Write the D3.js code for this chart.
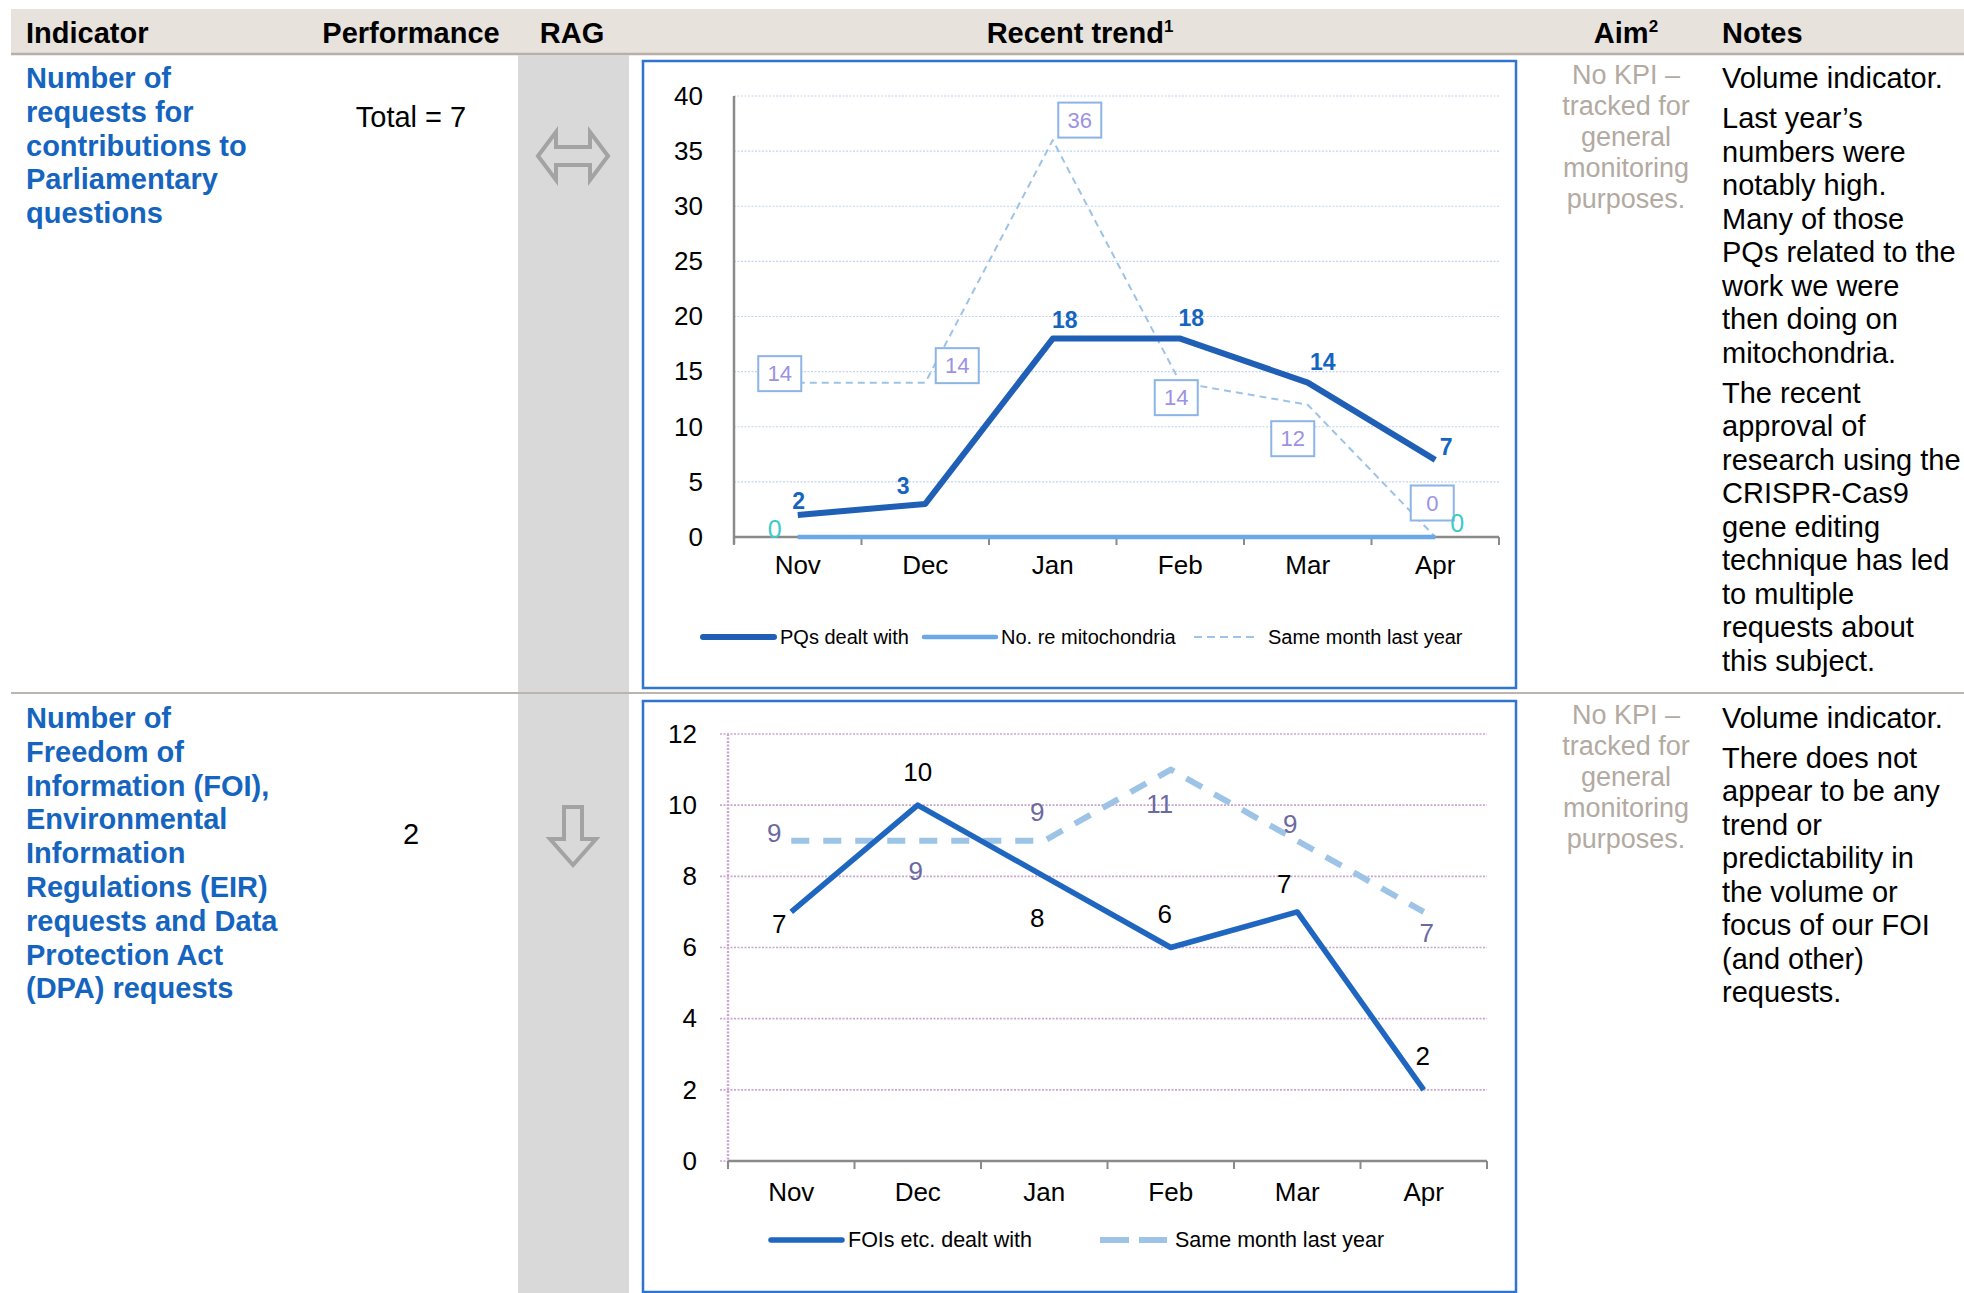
<!DOCTYPE html>
<html>
<head>
<meta charset="utf-8">
<script src="https://cdn.jsdelivr.net/npm/d3@7"></script>
<style>
  body { margin: 0; background: #fff; }
  svg { display: block; font-family: "Liberation Sans", Arial, sans-serif; }
</style>
</head>
<body>
<div id="page"></div>
<script>
// ---- data ----
const months = ["Nov", "Dec", "Jan", "Feb", "Mar", "Apr"];

// PQ chart
const pqsDealt = [2, 3, 18, 18, 14, 7];
const pqsMito = [0, 0, 0, 0, 0, 0];
const pqsLastYear = [14, 14, 36, 14, 12, 0];
const pqsTicks = [0, 5, 10, 15, 20, 25, 30, 35, 40];

// FOI chart
const foiDealt = [7, 10, 8, 6, 7, 2];
const foiLastYear = [9, 9, 9, 11, 9, 7];
const foiTicks = [0, 2, 4, 6, 8, 10, 12];

// table text
const headers = ["Indicator", "Performance", "RAG", "Recent trend", "Aim", "Notes"];
const indicator1 = ["Number of", "requests for", "contributions to", "Parliamentary", "questions"];
const indicator2 = ["Number of", "Freedom of", "Information (FOI),", "Environmental", "Information",
  "Regulations (EIR)", "requests and Data", "Protection Act", "(DPA) requests"];
const performance1 = "Total = 7";
const performance2 = "2";
const aimLines = ["No KPI \u2013", "tracked for", "general", "monitoring", "purposes."];
const notes1 = [
  ["Volume indicator."],
  ["Last year\u2019s", "numbers were", "notably high.", "Many of those", "PQs related to the",
    "work we were", "then doing on", "mitochondria."],
  ["The recent", "approval of", "research using the", "CRISPR-Cas9", "gene editing",
    "technique has led", "to multiple", "requests about", "this subject."]
];
const notes2 = [
  ["Volume indicator."],
  ["There does not", "appear to be any", "trend or", "predictability in", "the volume or",
    "focus of our FOI", "(and other)", "requests."]
];

// label placement tweaks (offset of label centre from its point), like the hand-placed Excel labels
const pqsDealtOff = [[1, -14], [-22, -18], [12, -19], [11, -21], [15, -21], [11, -13]];
const pqsMitoOff = [[-23, -8], null, null, null, null, [22, -14]];
const pqsLastOff = [[-18, -9], [32, -17], [27, -20], [-4, 15], [-15, 34], [-3, -34]];
const foiDealtOff = [[-12, 12], [0, -33], [-7, 42], [-6, -34], [-13, -28], [-1, -34]];
const foiLastOff = [[-17, -8], [-2, 30], [-7, -29], [-11, 34], [-7, -17], [3, 21]];

const svg = d3.select("#page").append("svg")
  .attr("width", 1964)
  .attr("height", 1293);

svg.append("rect").attr("width", 1964).attr("height", 1293).attr("fill", "#fff");

// ---- table frame ----
svg.append("rect")
  .attr("x", 11).attr("y", 9)
  .attr("width", 1953).attr("height", 44)
  .attr("fill", "#e7e2dc");
svg.append("line")
  .attr("x1", 11).attr("x2", 1964).attr("y1", 54).attr("y2", 54)
  .attr("stroke", "#b8afa6").attr("stroke-width", 2.5);

// RAG column shading
svg.append("rect")
  .attr("x", 518).attr("y", 55)
  .attr("width", 111).attr("height", 1238)
  .attr("fill", "#d9d9d9");

svg.append("line")
  .attr("x1", 11).attr("x2", 1964).attr("y1", 693).attr("y2", 693)
  .attr("stroke", "#bdb5ad").attr("stroke-width", 2);

// header labels
const headerPos = [
  { x: 26, anchor: "start" },
  { x: 411, anchor: "middle" },
  { x: 572, anchor: "middle" },
  { x: 1080, anchor: "middle", sup: "1" },
  { x: 1626, anchor: "middle", sup: "2" },
  { x: 1722, anchor: "start" }
];
headers.forEach((h, i) => {
  let t = svg.append("text")
    .attr("x", headerPos[i].x).attr("y", 43)
    .attr("text-anchor", headerPos[i].anchor)
    .attr("font-size", 29).attr("font-weight", "bold")
    .attr("fill", "#000")
    .text(h);
  if (headerPos[i].sup) {
    t.append("tspan")
      .attr("font-size", 17)
      .attr("dy", -11)
      .text(headerPos[i].sup);
  }
});

function textBlock(x, y, paragraphs, lh, gap, style) {
  let yy = y;
  paragraphs.forEach((lines, p) => {
    if (p > 0) yy += gap;
    lines.forEach(line => {
      svg.append("text")
        .attr("x", x).attr("y", yy)
        .attr("text-anchor", style.anchor || "start")
        .attr("font-size", style.size)
        .attr("font-weight", style.weight || "normal")
        .attr("fill", style.color)
        .text(line);
      yy += lh;
    });
  });
}

const indStyle = { size: 29, weight: "bold", color: "#1565c0" };
textBlock(26, 88, [indicator1], 33.8, 0, indStyle);
textBlock(26, 728, [indicator2], 33.8, 0, indStyle);

textBlock(411, 127, [[performance1]], 34, 0, { size: 29, color: "#000", anchor: "middle" });
textBlock(411, 844, [[performance2]], 34, 0, { size: 29, color: "#000", anchor: "middle" });

const aimStyle = { size: 27, color: "#b3aaa2", anchor: "middle" };
textBlock(1626, 84, [aimLines], 31, 0, aimStyle);
textBlock(1626, 724, [aimLines], 31, 0, aimStyle);

const noteStyle = { size: 29, color: "#000" };
textBlock(1722, 88, notes1, 33.5, 6.5, noteStyle);
textBlock(1722, 728, notes2, 33.5, 6, noteStyle);

// RAG arrows
svg.append("path")
  .attr("transform", "translate(573,156)")
  .attr("d", "M-35,0 L-17,-24 L-17,-9 L17,-9 L17,-24 L35,0 L17,24 L17,9 L-17,9 L-17,24 Z")
  .attr("fill", "none").attr("stroke", "#a3a3a3").attr("stroke-width", 4)
  .attr("stroke-linejoin", "miter");
svg.append("path")
  .attr("transform", "translate(573,836)")
  .attr("d", "M-9,-29 L9,-29 L9,3 L23,3 L0,29 L-23,3 L-9,3 Z")
  .attr("fill", "none").attr("stroke", "#a3a3a3").attr("stroke-width", 4);

// ---- charts ----
function drawChart(cfg) {
  const g = svg.append("g");

  g.append("rect")
    .attr("x", cfg.box[0]).attr("y", cfg.box[1])
    .attr("width", cfg.box[2]).attr("height", cfg.box[3])
    .attr("fill", "#fff")
    .attr("stroke", "#2f74cf").attr("stroke-width", 2.5);

  const x = d3.scaleBand().domain(months).range([cfg.left, cfg.right]).padding(0);
  const y = d3.scaleLinear().domain([0, d3.max(cfg.ticks)]).range([cfg.bottom, cfg.top]);
  const cx = i => x(months[i]) + x.bandwidth() / 2;

  // gridlines
  g.selectAll(".grid")
    .data(cfg.ticks.filter(t => t > 0 || cfg.gridAtZero))
    .join("line")
    .attr("x1", cfg.gridStart).attr("x2", cfg.right)
    .attr("y1", d => y(d)).attr("y2", d => y(d))
    .attr("stroke", cfg.gridColor)
    .attr("stroke-width", cfg.gridWidth)
    .attr("stroke-dasharray", "2,1.5");

  // y axis
  const yAxis = d3.axisLeft(y).tickValues(cfg.ticks).tickSize(0).tickPadding(31);
  g.append("g")
    .attr("transform", `translate(${cfg.left},0)`)
    .call(yAxis)
    .attr("font-family", null).attr("font-size", 26)
    .call(a => a.select(".domain").remove())
    .selectAll("text").attr("fill", "#000");

  g.append("line")
    .attr("x1", cfg.left).attr("x2", cfg.left)
    .attr("y1", y(d3.max(cfg.ticks))).attr("y2", cfg.bottom + 7)
    .attr("stroke", cfg.yAxisColor).attr("stroke-width", 2.5)
    .attr("stroke-dasharray", cfg.yAxisDash);

  // x axis
  const xAxis = d3.axisBottom(x).tickSize(0).tickPadding(cfg.xPad);
  g.append("g")
    .attr("transform", `translate(0,${cfg.bottom})`)
    .call(xAxis)
    .attr("font-family", null).attr("font-size", 26)
    .call(a => a.select(".domain").remove())
    .selectAll("text").attr("fill", "#000");

  g.append("line")
    .attr("x1", cfg.left).attr("x2", cfg.right)
    .attr("y1", cfg.bottom).attr("y2", cfg.bottom)
    .attr("stroke", "#8a8a8a").attr("stroke-width", 2.5);

  const bounds = months.map(m => x(m)).concat([cfg.right]);
  g.selectAll(".xtick")
    .data(bounds)
    .join("line")
    .attr("x1", d => d).attr("x2", d => d)
    .attr("y1", cfg.bottom).attr("y2", cfg.bottom + 8)
    .attr("stroke", "#8a8a8a").attr("stroke-width", 2);

  // series lines
  const line = d3.line().x((d, i) => cx(i)).y(d => y(d));
  cfg.series.forEach(s => {
    g.append("path")
      .datum(s.values)
      .attr("d", line)
      .attr("fill", "none")
      .attr("stroke", s.color)
      .attr("stroke-width", s.width)
      .attr("stroke-dasharray", s.dash || null)
      .attr("stroke-linejoin", "round");
  });

  // data labels
  cfg.series.forEach(s => {
    s.values.forEach((v, i) => {
      const off = s.labelOff[i];
      if (!off) return;
      const lx = cx(i) + off[0];
      const ly = y(v) + off[1];
      if (s.boxed) {
        g.append("rect")
          .attr("x", lx - 21.5).attr("y", ly - 17.5)
          .attr("width", 43).attr("height", 35)
          .attr("fill", "#fff")
          .attr("stroke", "#8db4e6").attr("stroke-width", 2);
      }
      g.append("text")
        .attr("x", lx).attr("y", ly)
        .attr("text-anchor", "middle")
        .attr("dominant-baseline", "central")
        .attr("font-size", s.labelSize)
        .attr("font-weight", s.labelWeight || "normal")
        .attr("fill", s.labelColor)
        .text(v);
    });
  });

  // legend
  cfg.legend.forEach(l => {
    const s = cfg.series[l.series];
    g.append("line")
      .attr("x1", l.x1).attr("x2", l.x2)
      .attr("y1", cfg.legendY).attr("y2", cfg.legendY)
      .attr("stroke", s.color)
      .attr("stroke-width", l.width || s.width)
      .attr("stroke-dasharray", l.dash || null)
      .attr("stroke-linecap", l.dash ? "butt" : "round");
    g.append("text")
      .attr("x", l.tx).attr("y", cfg.legendY + 7)
      .attr("font-size", cfg.legendSize)
      .attr("fill", "#000")
      .text(l.label);
  });
}

drawChart({
  box: [643, 61, 873, 627],
  left: 734, right: 1499, top: 96, bottom: 537,
  ticks: pqsTicks,
  gridStart: 734, gridColor: "#c3d4ee", gridWidth: 1.2, gridAtZero: false,
  yAxisColor: "#8a8a8a", yAxisDash: null,
  xPad: 19,
  series: [
    { values: pqsLastYear, color: "#9dc3e6", width: 2, dash: "7,5",
      boxed: true, labelOff: pqsLastOff, labelSize: 22, labelColor: "#9b92e6" },
    { values: pqsMito, color: "#6aa8e8", width: 4.5,
      labelOff: pqsMitoOff, labelSize: 25, labelColor: "#3cc9cc" },
    { values: pqsDealt, color: "#1f5fb5", width: 6,
      labelOff: pqsDealtOff, labelSize: 23, labelWeight: "bold", labelColor: "#1565c0" }
  ],
  legendY: 637, legendSize: 20,
  legend: [
    { series: 2, x1: 703, x2: 774, tx: 780, label: "PQs dealt with" },
    { series: 1, x1: 924, x2: 996, tx: 1001, label: "No. re mitochondria" },
    { series: 0, x1: 1194, x2: 1258, tx: 1268, label: "Same month last year", dash: "8,5" }
  ]
});

drawChart({
  box: [643, 701, 873, 591],
  left: 728, right: 1487, top: 734, bottom: 1161,
  ticks: foiTicks,
  gridStart: 720, gridColor: "#c9a6cf", gridWidth: 1.6, gridAtZero: true,
  yAxisColor: "#c9a6cf", yAxisDash: "2,1.5",
  xPad: 22,
  series: [
    { values: foiLastYear, color: "#9dc3e6", width: 6, dash: "18,14",
      labelOff: foiLastOff, labelSize: 26, labelColor: "#6b6aa0" },
    { values: foiDealt, color: "#1f66c0", width: 5.5,
      labelOff: foiDealtOff, labelSize: 26, labelColor: "#000" }
  ],
  legendY: 1240, legendSize: 21.5,
  legend: [
    { series: 1, x1: 771, x2: 842, tx: 848, label: "FOIs etc. dealt with" },
    { series: 0, x1: 1100, x2: 1167, tx: 1175, label: "Same month last year", dash: "29,10" }
  ]
});
</script>
</body>
</html>
